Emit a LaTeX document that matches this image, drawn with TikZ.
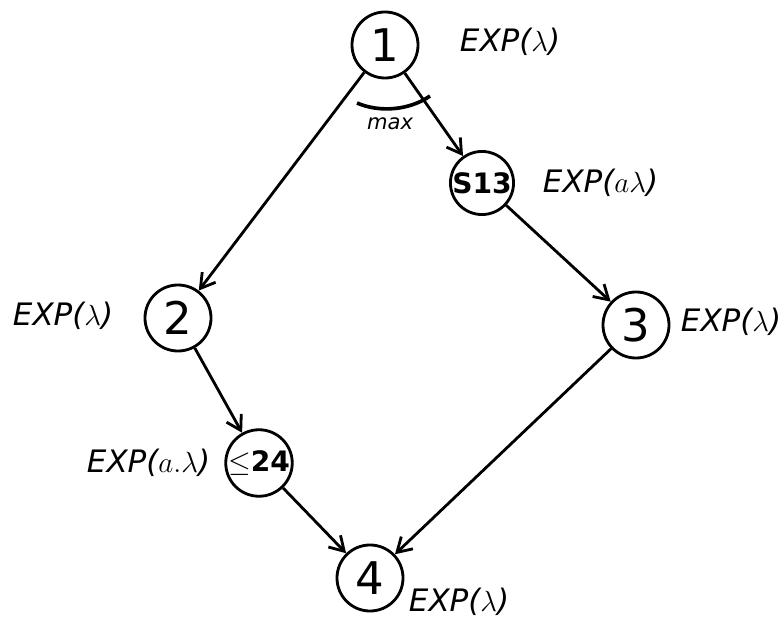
\documentclass[tikz,border=0pt]{standalone}
\usepackage{fontspec}
\setsansfont{DejaVu Sans}
\usetikzlibrary{arrows.meta}
\begin{document}
\begin{tikzpicture}[x=0.025cm,y=-0.025cm,
  evt/.style={circle,draw,line width=2pt,inner sep=0pt,minimum size=1.65cm,font=\fontsize{32}{36}\selectfont\sffamily},
  small/.style={circle,draw,line width=2pt,inner sep=0pt,minimum size=1.45cm,font=\fontsize{20}{24}\selectfont\sffamily\bfseries},
  lab/.style={anchor=west,font=\fontsize{22}{26}\selectfont\sffamily\itshape},
  arr/.style={line width=2pt,-{Straight Barb[length=10pt,width=12pt,line width=2pt]}}]
\useasboundingbox (0,0) rectangle (784,630);
\node[evt] (n1) at (385,45) {1};
\node[small] (s13) at (482,183) {S13};
\node[evt] (n2) at (178,318) {2};
\node[evt] (n3) at (636,325) {3};
\node[small] (s24) at (259,463) {$\le$24};
\node[evt] (n4) at (370,578) {4};
\node[lab] (l1) at (455,42) {EXP($\lambda$)};
\node[lab] (l13) at (538,183) {EXP($a\lambda$)};
\node[lab] (l2) at (8,316) {EXP($\lambda$)};
\node[lab] (l3) at (676,322) {EXP($\lambda$)};
\node[lab] (l24) at (82,463) {EXP($a.\lambda$)};
\node[lab] (l4) at (404,602) {EXP($\lambda$)};
\node[font=\fontsize{15}{18}\selectfont\sffamily\itshape] (mx) at (390,124) {max};
\draw[arr] (n1) -- (n2);
\draw[arr] (n1) -- (s13);
\draw[arr] (s13) -- (n3);
\draw[arr] (n2) -- (s24);
\draw[arr] (s24) -- (n4);
\draw[arr] (n3) -- (n4);
\draw[line width=2.6pt] (357,103) .. controls (380,113) and (410,110) .. (430,96);
\end{tikzpicture}
\end{document}
